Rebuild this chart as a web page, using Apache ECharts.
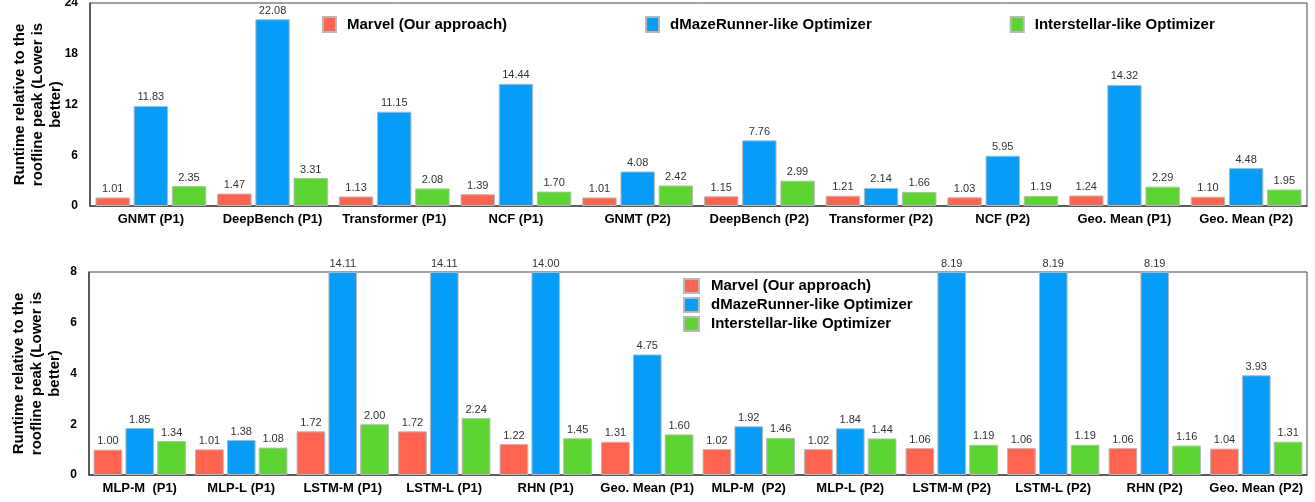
<!DOCTYPE html>
<html>
<head>
<meta charset="utf-8">
<script src="https://cdn.jsdelivr.net/npm/echarts@6/dist/echarts.min.js"></script>
<style>
  html, body { margin: 0; padding: 0; background: #fff; }
  #chart { width: 1315px; height: 502px; }
</style>
</head>
<body>
<div id="chart"></div>
<script>
// series names
const seriesNames = ["Marvel (Our approach)", "dMazeRunner-like Optimizer", "Interstellar-like Optimizer"];
const colors = ["#FF6450", "#069CF8", "#5CD532"];

// top panel
const topCategories = ["GNMT (P1)", "DeepBench (P1)", "Transformer (P1)", "NCF (P1)", "GNMT (P2)",
  "DeepBench (P2)", "Transformer (P2)", "NCF (P2)", "Geo. Mean (P1)", "Geo. Mean (P2)"];
const topMarvel = [1.01, 1.47, 1.13, 1.39, 1.01, 1.15, 1.21, 1.03, 1.24, 1.10];
const topDmaze = [11.83, 22.08, 11.15, 14.44, 4.08, 7.76, 2.14, 5.95, 14.32, 4.48];
const topInter = [2.35, 3.31, 2.08, 1.70, 2.42, 2.99, 1.66, 1.19, 2.29, 1.95];
const topMax = 24;

// bottom panel (bars above the axis max are cut off, label keeps the real value)
const botCategories = ["MLP-M  (P1)", "MLP-L (P1)", "LSTM-M (P1)", "LSTM-L (P1)", "RHN (P1)", "Geo. Mean (P1)",
  "MLP-M  (P2)", "MLP-L (P2)", "LSTM-M (P2)", "LSTM-L (P2)", "RHN (P2)", "Geo. Mean (P2)"];
const botMarvel = [1.00, 1.01, 1.72, 1.72, 1.22, 1.31, 1.02, 1.02, 1.06, 1.06, 1.06, 1.04];
const botDmaze = [1.85, 1.38, 14.11, 14.11, 14.00, 4.75, 1.92, 1.84, 8.19, 8.19, 8.19, 3.93];
const botInter = [1.34, 1.08, 2.00, 2.24, 1.45, 1.60, 1.46, 1.44, 1.19, 1.19, 1.16, 1.31];
const botMax = 8;

const FONT = "Liberation Sans";
const yName = "Runtime relative to the\nroofline peak (Lower is\nbetter)";

function makeSeries(values, idx, axisIdx, max) {
  return {
    name: seriesNames[idx],
    type: "bar",
    xAxisIndex: axisIdx,
    yAxisIndex: axisIdx,
    barGap: "11%",
    barCategoryGap: "9%",
    itemStyle: { color: colors[idx], borderColor: "#b8b8b8", borderWidth: 1 },
    label: {
      show: true,
      position: "top",
      distance: 3,
      fontFamily: FONT,
      fontSize: 11,
      color: "#333",
      formatter: (p) => p.data.raw.toFixed(2),
    },
    data: values.map((v) => ({ value: Math.min(v, max), raw: v })),
  };
}

function yAxisCfg(gridIdx, max, interval) {
  return {
    gridIndex: gridIdx,
    type: "value",
    min: 0,
    max: max,
    interval: interval,
    name: yName,
    nameLocation: "middle",
    nameGap: 25,
    nameMoveOverlap: false,
    nameTextStyle: { fontFamily: FONT, fontWeight: "bold", fontSize: 15, color: "#000", lineHeight: 18 },
    axisLine: { show: true, lineStyle: { color: "#444", width: 1.5 } },
    axisTick: { show: false },
    splitLine: { show: false },
    axisLabel: { fontFamily: FONT, fontWeight: "bold", fontSize: 12, color: "#000", margin: 12 },
  };
}

function xAxisCfg(gridIdx, cats) {
  return {
    gridIndex: gridIdx,
    type: "category",
    data: cats,
    axisLine: { lineStyle: { color: "#444", width: 1.5 } },
    axisTick: { show: false },
    axisLabel: { interval: 0, fontFamily: FONT, fontWeight: "bold", fontSize: 13, color: "#000", margin: 7 },
  };
}

const chart = echarts.init(document.getElementById("chart"));
chart.setOption({
  animation: false,
  grid: [
    { left: 90, right: 8, top: 3, height: 203, show: true, borderColor: "#444", borderWidth: 1,
      containLabel: false, outerBoundsMode: "none" },
    { left: 89, right: 8, top: 272, height: 203, show: true, borderColor: "#444", borderWidth: 1,
      containLabel: false, outerBoundsMode: "none" },
  ],
  legend: [
    {
      data: seriesNames,
      left: 322,
      top: 16,
      padding: 0,
      itemWidth: 13,
      itemHeight: 15,
      itemGap: 138,
      icon: "rect",
      textStyle: { fontFamily: FONT, fontWeight: "bold", fontSize: 15, color: "#000", padding: [0, 0, 0, 6] },
    },
    {
      data: seriesNames,
      left: 683,
      top: 278,
      padding: 0,
      orient: "vertical",
      itemWidth: 15,
      itemHeight: 14,
      itemGap: 3,
      icon: "rect",
      textStyle: { fontFamily: FONT, fontWeight: "bold", fontSize: 15, lineHeight: 15, color: "#000", padding: [0, 0, 0, 7] },
    },
  ],
  xAxis: [xAxisCfg(0, topCategories), xAxisCfg(1, botCategories)],
  yAxis: [yAxisCfg(0, topMax, 6), yAxisCfg(1, botMax, 2)],
  series: [
    makeSeries(topMarvel, 0, 0, topMax),
    makeSeries(topDmaze, 1, 0, topMax),
    makeSeries(topInter, 2, 0, topMax),
    makeSeries(botMarvel, 0, 1, botMax),
    makeSeries(botDmaze, 1, 1, botMax),
    makeSeries(botInter, 2, 1, botMax),
  ],
});
</script>
</body>
</html>
